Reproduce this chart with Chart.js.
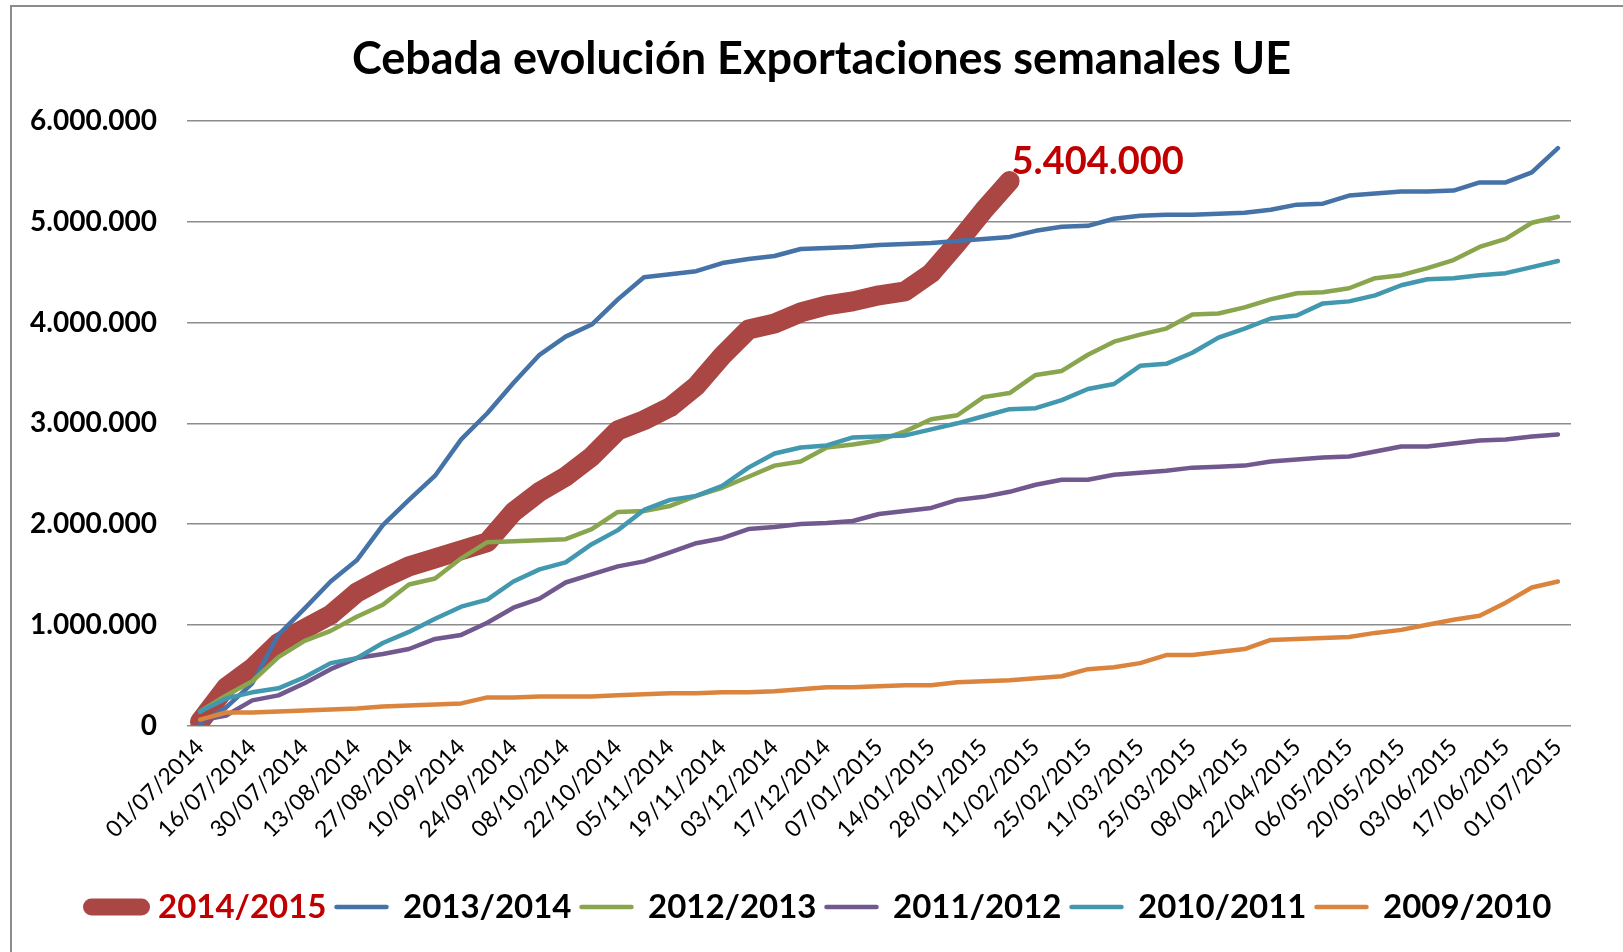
<!DOCTYPE html>
<html>
<head>
<meta charset="utf-8">
<script src="https://cdn.jsdelivr.net/npm/chart.js@4"></script>
<style>
  html, body { margin: 0; padding: 0; background: #fff; overflow: hidden; }
  #wrap { position: relative; width: 1623px; height: 952px; }
  #marco { position: absolute; left: 10px; top: 5px; width: 1700px; height: 1100px; border: 2px solid #8c8c8c; pointer-events: none; }
</style>
</head>
<body>
<div id="wrap">
  <canvas id="grafico" width="1623" height="952"></canvas>
  <div id="marco"></div>
</div>
<script>
// semanas de la campaña (se rotula una de cada dos)
const semanas = [
  '01/07/2014', '09/07/2014', '16/07/2014', '23/07/2014', '30/07/2014', '06/08/2014', '13/08/2014',
  '20/08/2014', '27/08/2014', '03/09/2014', '10/09/2014', '17/09/2014', '24/09/2014', '01/10/2014',
  '08/10/2014', '15/10/2014', '22/10/2014', '29/10/2014', '05/11/2014', '12/11/2014', '19/11/2014',
  '26/11/2014', '03/12/2014', '10/12/2014', '17/12/2014', '31/12/2014', '07/01/2015', '09/01/2015',
  '14/01/2015', '21/01/2015', '28/01/2015', '04/02/2015', '11/02/2015', '18/02/2015', '25/02/2015',
  '04/03/2015', '11/03/2015', '18/03/2015', '25/03/2015', '01/04/2015', '08/04/2015', '15/04/2015',
  '22/04/2015', '29/04/2015', '06/05/2015', '13/05/2015', '20/05/2015', '27/05/2015', '03/06/2015',
  '10/06/2015', '17/06/2015', '24/06/2015', '01/07/2015'
]

// exportaciones acumuladas (t)
const campana1415 = [40000, 380000, 570000, 820000, 960000, 1100000, 1320000, 1460000, 1580000, 1660000,
  1740000, 1820000, 2120000, 2320000, 2470000, 2670000, 2930000, 3030000, 3160000, 3370000,
  3670000, 3930000, 3990000, 4100000, 4170000, 4210000, 4270000, 4310000, 4490000, 4790000,
  5110000, 5404000]
const campana1314 = [20000, 180000, 420000, 900000, 1160000, 1430000, 1640000, 1990000, 2240000, 2480000,
  2840000, 3100000, 3400000, 3680000, 3860000, 3980000, 4230000, 4450000, 4480000, 4510000,
  4590000, 4630000, 4660000, 4730000, 4740000, 4750000, 4770000, 4780000, 4790000, 4810000,
  4830000, 4850000, 4910000, 4950000, 4960000, 5030000, 5060000, 5070000, 5070000, 5080000,
  5090000, 5120000, 5170000, 5180000, 5260000, 5280000, 5300000, 5300000, 5310000, 5390000,
  5390000, 5490000, 5730000]
const campana1213 = [140000, 300000, 440000, 680000, 840000, 940000, 1080000, 1200000, 1400000, 1460000,
  1660000, 1820000, 1830000, 1840000, 1850000, 1950000, 2120000, 2130000, 2180000, 2280000,
  2360000, 2470000, 2580000, 2620000, 2760000, 2790000, 2830000, 2920000, 3040000, 3080000,
  3260000, 3300000, 3480000, 3520000, 3680000, 3810000, 3880000, 3940000, 4080000, 4090000,
  4150000, 4230000, 4290000, 4300000, 4340000, 4440000, 4470000, 4540000, 4620000, 4750000,
  4830000, 4990000, 5050000]
const campana1112 = [50000, 100000, 250000, 300000, 420000, 560000, 670000, 710000, 760000, 860000,
  900000, 1020000, 1170000, 1260000, 1420000, 1500000, 1580000, 1630000, 1720000, 1810000,
  1860000, 1950000, 1970000, 2000000, 2010000, 2030000, 2100000, 2130000, 2160000, 2240000,
  2270000, 2320000, 2390000, 2440000, 2440000, 2490000, 2510000, 2530000, 2560000, 2570000,
  2580000, 2620000, 2640000, 2660000, 2670000, 2720000, 2770000, 2770000, 2800000, 2830000,
  2840000, 2870000, 2890000]
const campana1011 = [140000, 270000, 330000, 370000, 480000, 620000, 670000, 820000, 930000, 1060000,
  1180000, 1250000, 1430000, 1550000, 1620000, 1800000, 1940000, 2140000, 2240000, 2280000,
  2380000, 2560000, 2700000, 2760000, 2780000, 2860000, 2870000, 2880000, 2940000, 3000000,
  3070000, 3140000, 3150000, 3230000, 3340000, 3390000, 3570000, 3590000, 3700000, 3850000,
  3940000, 4040000, 4070000, 4190000, 4210000, 4270000, 4370000, 4430000, 4440000, 4470000,
  4490000, 4550000, 4610000]
const campana0910 = [60000, 130000, 130000, 140000, 150000, 160000, 170000, 190000, 200000, 210000,
  220000, 280000, 280000, 290000, 290000, 290000, 300000, 310000, 320000, 320000,
  330000, 330000, 340000, 360000, 380000, 380000, 390000, 400000, 400000, 430000,
  440000, 450000, 470000, 490000, 560000, 580000, 620000, 700000, 700000, 730000,
  760000, 850000, 860000, 870000, 880000, 920000, 950000, 1000000, 1050000, 1090000,
  1220000, 1370000, 1430000]

const marcasY = [0, 1000000, 2000000, 3000000, 4000000, 5000000, 6000000]

function miles(n) {
  return String(Math.round(n)).replace(/\B(?=(\d{3})+(?!\d))/g, '.')
}

// rotulo con el ultimo valor de la campaña actual
const etiquetaFinal = {
  id: 'etiquetaFinal',
  afterDatasetsDraw(chart) {
    const meta = chart.getDatasetMeta(0)
    const pt = meta.data[meta.data.length - 1]
    const ctx = chart.ctx
    ctx.save()
    ctx.font = 'bold 38px Lato'
    ctx.fillStyle = '#C00000'
    ctx.textAlign = 'left'
    ctx.textBaseline = 'middle'
    ctx.fillText(miles(campana1415[campana1415.length - 1]), pt.x + 2, pt.y - 19)
    ctx.restore()
  }
}

const serie = (label, data, color, width, order) => ({
  label, data, order,
  borderColor: color,
  backgroundColor: color,
  borderWidth: width,
  borderCapStyle: 'round',
  borderJoinStyle: 'round',
  pointRadius: 0,
  tension: 0,
  fill: false
})

new Chart(document.getElementById('grafico'), {
  type: 'line',
  data: {
    labels: semanas,
    datasets: [
      serie('2014/2015', campana1415, '#AA4643', 20, 5),
      serie('2013/2014', campana1314, '#4572A7', 4.5, 4),
      serie('2012/2013', campana1213, '#89A54E', 4.5, 3),
      serie('2011/2012', campana1112, '#71588F', 4.5, 2),
      serie('2010/2011', campana1011, '#4198AF', 4.5, 1),
      serie('2009/2010', campana0910, '#DB843D', 4.5, 0)
    ]
  },
  plugins: [etiquetaFinal],
  options: {
    responsive: false,
    animation: false,
    devicePixelRatio: 1,
    layout: { padding: { left: 20, right: 0, top: 0, bottom: 18.5 } },
    plugins: {
      tooltip: { enabled: false },
      title: {
        display: true,
        text: 'Cebada evolución Exportaciones semanales UE',
        color: '#000',
        font: { family: 'Lato', size: 45, weight: 'bold' },
        padding: { top: 32, bottom: 35 }
      },
      legend: {
        position: 'bottom',
        labels: {
          usePointStyle: true,
          pointStyleWidth: 50,
          padding: 10,
          color: '#000',
          font: { family: 'Lato', size: 33, weight: 'bold' },
          sort: (a, b) => a.datasetIndex - b.datasetIndex,
          generateLabels(chart) {
            const items = Chart.defaults.plugins.legend.labels.generateLabels(chart)
            items.forEach(it => {
              const ds = chart.data.datasets[it.datasetIndex]
              it.pointStyle = 'line'
              it.lineCap = 'round'
              it.strokeStyle = ds.borderColor
              it.lineWidth = it.datasetIndex === 0 ? 17 : 4.5
              it.fontColor = it.datasetIndex === 0 ? '#C00000' : '#000'
            })
            return items
          }
        }
      }
    },
    scales: {
      x: {
        offset: true,
        grid: { display: false, drawTicks: false },
        border: { display: false },
        afterFit(scale) { scale.height = 154.9 },
        ticks: {
          autoSkip: false,
          maxRotation: 45,
          minRotation: 45,
          padding: 8,
          color: '#000',
          font: { family: 'Lato', size: 23 },
          callback(val, i) { return i % 2 === 0 ? semanas[i] : '' }
        }
      },
      y: {
        min: 0,
        max: 6000000,
        afterFit(scale) { scale.width = 167 },
        afterBuildTicks(scale) { scale.ticks = marcasY.map(v => ({ value: v })) },
        grid: { color: '#8c8c8c', lineWidth: 1.5, drawTicks: false },
        border: { display: false },
        ticks: {
          padding: 30,
          color: '#000',
          font: { family: 'Lato', size: 28, weight: 'bold' },
          callback: v => miles(v)
        }
      },
      // margen derecho del area de trazado
      yDer: {
        position: 'right',
        display: true,
        grid: { display: false },
        border: { display: false },
        ticks: { display: false },
        afterFit(scale) { scale.width = 52 }
      }
    }
  }
})
</script>
</body>
</html>
